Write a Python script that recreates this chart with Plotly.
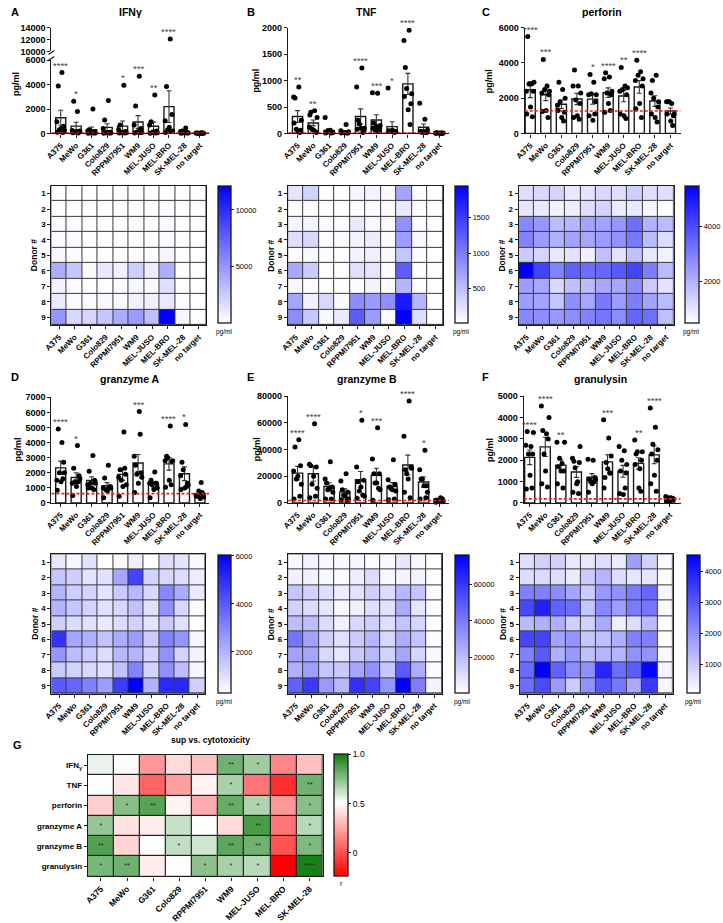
import numpy as np
import plotly.graph_objects as go

W, H = 723, 923
FONT = "Liberation Sans, Arial, sans-serif"

targets = ["A375", "MeWo", "G361", "Colo829", "RPPMI7951", "WM9", "MEL-JUSO", "MEL-BRO", "SK-MEL-28", "no target"]
donors = [1, 2, 3, 4, 5, 6, 7, 8, 9]

# pg/ml, outer list = target (order as `targets`), inner list = donors 1..9
ifng = [
    [100, 80, 300, 250, 400, 3900, 600, 950, 5000],
    [50, 40, 100, 200, 150, 2650, 150, 250, 1800],
    [20, 30, 50, 40, 60, 300, 100, 200, 2000],
    [20, 30, 50, 40, 80, 1100, 100, 400, 2700],
    [30, 40, 60, 50, 100, 700, 150, 300, 3950],
    [30, 50, 100, 80, 150, 2250, 400, 700, 4700],
    [20, 40, 80, 60, 100, 950, 200, 700, 3150],
    [80, 150, 300, 200, 500, 3850, 1550, 1050, 12100],
    [20, 30, 50, 40, 60, 200, 100, 150, 450],
    [10, 10, 20, 15, 20, 40, 30, 30, 60],
]
tnf = [
    [200, 20, 80, 250, 30, 670, 60, 690, 880],
    [350, 30, 80, 300, 60, 400, 20, 120, 430],
    [10, 10, 50, 20, 30, 20, 15, 300, 60],
    [10, 10, 20, 30, 15, 20, 10, 50, 170],
    [80, 20, 180, 100, 100, 250, 30, 880, 1240],
    [100, 30, 60, 150, 130, 200, 100, 770, 760],
    [50, 20, 40, 30, 60, 40, 30, 860, 40],
    [700, 170, 850, 750, 450, 1250, 560, 1760, 1950],
    [30, 20, 20, 60, 30, 40, 20, 570, 270],
    [5, 5, 10, 8, 5, 12, 6, 10, 8],
]
perforin = [
    [1100, 950, 2800, 2900, 1500, 5500, 2400, 2400, 2800],
    [1250, 900, 2500, 2400, 1300, 4200, 2200, 2300, 2700],
    [1300, 700, 1800, 2000, 900, 2900, 1200, 1600, 2500],
    [900, 800, 1900, 2300, 1000, 3600, 1700, 2700, 2700],
    [1000, 1100, 2250, 2200, 750, 3350, 1800, 2200, 2900],
    [1200, 1300, 2300, 2400, 1700, 3450, 2200, 3100, 3200],
    [1100, 850, 2500, 2600, 1000, 3750, 2200, 2400, 2700],
    [1400, 900, 3300, 3100, 1700, 4150, 2700, 3000, 3500],
    [1100, 650, 2000, 1800, 900, 3000, 1500, 2300, 3300],
    [1100, 450, 1800, 1100, 700, 1800, 1000, 1800, 1700],
]
granzyme_a = [
    [850, 1600, 2000, 2000, 1400, 4900, 2700, 1500, 4000],
    [500, 1400, 1400, 1600, 1100, 2300, 1800, 1300, 3800],
    [1000, 900, 1300, 1300, 1000, 2100, 1500, 1200, 3150],
    [350, 1000, 900, 1000, 800, 1650, 1100, 1000, 2500],
    [450, 2300, 1500, 1200, 1100, 2200, 1900, 1700, 4700],
    [700, 4550, 1900, 1700, 1300, 2500, 2000, 3100, 6050],
    [350, 1300, 1200, 1000, 900, 1500, 1300, 1300, 2050],
    [1050, 1200, 3000, 2800, 1500, 3100, 2750, 2800, 5100],
    [900, 1100, 2200, 1200, 1000, 2700, 1300, 1800, 5200],
    [450, 700, 800, 400, 300, 500, 600, 500, 1350],
]
granzyme_b = [
    [3000, 5000, 18000, 14000, 20000, 42000, 28000, 24000, 47500],
    [4000, 5000, 14000, 11000, 20000, 28000, 27000, 29000, 59500],
    [3000, 3000, 10000, 8000, 11000, 15000, 12000, 18000, 31000],
    [2500, 2000, 6000, 3000, 5000, 10000, 8000, 16500, 22000],
    [3500, 6000, 9000, 5000, 12000, 16000, 17000, 27000, 62000],
    [2000, 11000, 15000, 10000, 15000, 22000, 22000, 33000, 56500],
    [2500, 3000, 11000, 9000, 10000, 12000, 14000, 17500, 32500],
    [8000, 4000, 22000, 26000, 18000, 25000, 27000, 50000, 76500],
    [3000, 4000, 18000, 8000, 13000, 18000, 13000, 25000, 39500],
    [500, 1000, 2000, 1500, 1000, 2000, 3000, 2000, 4000],
]
granulysin = [
    [650, 700, 2300, 3300, 1300, 3350, 2300, 2700, 2650],
    [900, 750, 2300, 4000, 1500, 3400, 3000, 4550, 3250],
    [900, 700, 2100, 2850, 1500, 1700, 1500, 2850, 1850],
    [500, 450, 1650, 2650, 900, 1950, 1900, 2100, 1000],
    [500, 1000, 1000, 1100, 900, 1100, 1200, 2050, 2000],
    [700, 1400, 1900, 2200, 1600, 1200, 1400, 3900, 3050],
    [450, 700, 2000, 1800, 400, 1500, 1400, 2650, 2450],
    [1800, 550, 2400, 2400, 700, 2300, 2000, 2950, 1600],
    [900, 550, 2750, 2500, 1300, 2300, 2000, 4450, 3550],
    [200, 150, 250, 200, 100, 100, 200, 300, 250],
]

stars_ifng = ["****", "*", "", "", "*", "***", "**", "****", "", ""]
stars_tnf = ["**", "**", "", "", "****", "***", "*", "****", "", ""]
stars_perforin = ["****", "***", "", "", "*", "****", "**", "****", "", ""]
stars_granzyme_a = ["****", "*", "", "", "", "***", "", "****", "*", ""]
stars_granzyme_b = ["****", "****", "", "", "*", "***", "", "****", "*", ""]
stars_granulysin = ["****", "****", "**", "", "", "***", "", "**", "****", ""]

# tick labels
yticks_ifng_low = [0, 2000, 4000, 6000]
yticks_ifng_high = [10000, 12000, 14000]
yticks_tnf = [0, 500, 1000, 1500, 2000]
yticks_perforin = [0, 2000, 4000, 6000]
yticks_granzyme_a = [0, 1000, 2000, 3000, 4000, 5000, 6000, 7000]
yticks_granzyme_b = [0, 20000, 40000, 60000, 80000]
yticks_granulysin = [0, 1000, 2000, 3000, 4000, 5000]
cticks_ifng = [5000, 10000]
cticks_tnf = [500, 1000, 1500]
cticks_perforin = [2000, 4000]
cticks_granzyme_a = [2000, 4000, 6000]
cticks_granzyme_b = [20000, 40000, 60000]
cticks_granulysin = [1000, 2000, 3000, 4000]

# panel G: correlation r (cytokine vs cytotoxicity)
corr_targets = targets[:9]
corr_rows = ["IFN<sub>γ</sub>", "TNF", "perforin", "granzyme A", "granzyme B", "granulysin"]
r_ifng = [0.55, 0.49, 0.20, 0.40, 0.32, 0.80, 0.70, 0.15, 0.32]
r_tnf = [0.50, 0.43, 0.05, 0.22, 0.47, 0.68, 0.10, -0.10, 0.80]
r_perforin = [0.36, 0.75, 0.85, 0.47, 0.26, 0.82, 0.67, 0.20, 0.75]
r_granzyme_a = [0.72, 0.42, 0.45, 0.62, 0.50, 0.40, 0.88, 0.10, 0.65]
r_granzyme_b = [0.86, 0.38, 0.50, 0.63, 0.60, 0.84, 0.80, 0.00, 0.77]
r_granulysin = [0.78, 0.80, 0.45, 0.50, 0.74, 0.68, 0.65, -0.24, 0.98]
p_ifng = ["", "", "", "", "", "**", "*", "", ""]
p_tnf = ["", "", "", "", "", "*", "", "", "**"]
p_perforin = ["", "*", "**", "", "", "**", "*", "", "*"]
p_granzyme_a = ["*", "", "", "", "", "", "**", "", "*"]
p_granzyme_b = ["**", "", "", "*", "", "**", "**", "", "*"]
p_granulysin = ["*", "**", "", "", "*", "*", "*", "", "****"]
cticks_r = [0, 0.5, 1.0]
cticktext_r = ["0", "0.5", "1.0"]

# ---------------------------------------------------------------
JIT = [-0.22, 0.14, -0.08, 0.24, 0.02, -0.16, 0.19, -0.25, 0.08]
TICK_Y = 9
TICK_X = 8
INK = "#1a1a1a"

layout = dict(width=W, height=H, margin=dict(l=0, r=0, t=0, b=0), autosize=False,
              paper_bgcolor="white", plot_bgcolor="rgba(0,0,0,0)", showlegend=False,
              font=dict(family=FONT, color="black"), annotations=[], shapes=[])
traces = []
n_ax = [0]


def px_x(px):
    return px / W


def px_y(py):
    return 1 - py / H


AX = dict(showline=True, linecolor=INK, linewidth=1.4, ticks="outside", ticklen=3,
          tickwidth=1.2, tickcolor=INK, showgrid=False, zeroline=False, fixedrange=True)


def add_axes(x0, x1, y0, y1, xa, ya):
    n_ax[0] += 1
    n = n_ax[0]
    s = "" if n == 1 else str(n)
    xa = dict(xa)
    ya = dict(ya)
    xa.update(domain=[px_x(x0), px_x(x1)], anchor="y" + s)
    ya.update(domain=[px_y(y1), px_y(y0)], anchor="x" + s)
    layout["xaxis" + s] = xa
    layout["yaxis" + s] = ya
    return "x" + s, "y" + s


def text(px, py, t, size, bold=True, angle=0, color="black", xanchor="center"):
    layout["annotations"].append(dict(x=px_x(px), y=px_y(py), xref="paper", yref="paper", text=t,
                                      showarrow=False, textangle=angle, xanchor=xanchor, yanchor="middle",
                                      font=dict(size=size, color=color, weight="bold" if bold else "normal")))


def bar_panel(data, stars, xb, yb, yrange, yticks, xr=(-0.6, 9.6), upper=None):
    arr = np.array(data, float)
    means = arr.mean(axis=1)
    sems = arr.std(axis=1, ddof=1) / np.sqrt(arr.shape[1])
    xpos = np.arange(len(targets))
    xa = dict(AX, range=list(xr), tickvals=list(xpos), ticktext=targets, tickangle=-45,
              tickfont=dict(size=TICK_X, weight="bold"))
    ya = dict(AX, range=yrange, tickvals=yticks, ticktext=[str(v) for v in yticks],
              tickfont=dict(size=TICK_Y, weight="bold"))
    xs, ys = add_axes(xb[0], xb[1], yb[0], yb[1], xa, ya)
    traces.append(go.Bar(x=xpos, y=means, xaxis=xs, yaxis=ys, width=0.65,
                         marker=dict(color="white", line=dict(color=INK, width=1.4)),
                         error_y=dict(type="data", array=sems, color="#333", thickness=1.1, width=2.5),
                         hoverinfo="skip"))
    lim = yrange[1]
    lx, ly, ux, uy = [], [], [], []
    for i in range(arr.shape[0]):
        for d in range(arr.shape[1]):
            v = arr[i, d]
            if upper is not None and v > lim:
                ux.append(i + JIT[d]); uy.append(v)
            else:
                lx.append(i + JIT[d]); ly.append(v)
    traces.append(go.Scatter(x=lx, y=ly, mode="markers", xaxis=xs, yaxis=ys, cliponaxis=False,
                             marker=dict(size=5, color="black"), hoverinfo="skip"))
    traces.append(go.Scatter(x=[xr[0], xr[1]], y=[means[-1], means[-1]], mode="lines", xaxis=xs, yaxis=ys,
                             cliponaxis=False, line=dict(color="#ee1c1c", width=1.6, dash="3px,2px"),
                             hoverinfo="skip"))
    uxs = uys = None
    if upper is not None:
        uyb, urange, uticks = upper
        uxa = dict(visible=False, range=list(xr), fixedrange=True)
        uya = dict(AX, range=urange, tickvals=uticks, ticktext=[str(v) for v in uticks],
                   tickfont=dict(size=TICK_Y, weight="bold"))
        uxs, uys = add_axes(xb[0], xb[1], uyb[0], uyb[1], uxa, uya)
        traces.append(go.Scatter(x=ux, y=uy, mode="markers", xaxis=uxs, yaxis=uys, cliponaxis=False,
                                 marker=dict(size=5, color="black"), hoverinfo="skip"))
    for i, st in enumerate(stars):
        if not st:
            continue
        top = max(arr[i].max(), means[i] + sems[i])
        if upper is not None and top > lim:
            xr_, yr_ = uxs, uys
        else:
            xr_, yr_ = xs, ys
        layout["annotations"].append(dict(x=i, y=top, xref=xr_, yref=yr_, text=st, showarrow=False,
                                          yanchor="bottom", yshift=0,
                                          font=dict(size=9.5, color="#444")))


BLUE = [[0, "#ffffff"], [1, "#0000ff"]]


def heat_panel(data, xb, yb, cb, cticks):
    z = np.array(data, float).T
    xa = dict(AX, mirror=True, range=[-0.5, 9.5], tickvals=list(range(10)), ticktext=targets,
              tickangle=-45, tickfont=dict(size=TICK_X, weight="bold"))
    ya = dict(AX, mirror=True, range=[9.5, 0.5], tickvals=donors, tickfont=dict(size=8, weight="bold"))
    xs, ys = add_axes(xb[0], xb[1], yb[0], yb[1], xa, ya)
    layout["shapes"].append(dict(type="rect", xref=xs + " domain", yref=ys + " domain", x0=0, x1=1, y0=0, y1=1,
                                 fillcolor="#3a3a3a", line=dict(width=0), layer="below"))
    traces.append(go.Heatmap(z=z, x=list(range(10)), y=donors, xaxis=xs, yaxis=ys, colorscale=BLUE,
                             xgap=1, ygap=1, hoverinfo="skip",
                             colorbar=dict(x=px_x(cb[0]), xanchor="left", y=px_y(cb[3]), yanchor="bottom",
                                           len=(cb[3] - cb[2]) / H, lenmode="fraction",
                                           thickness=cb[1] - cb[0], thicknessmode="pixels",
                                           outlinecolor=INK, outlinewidth=1.3, ticks="outside", ticklen=3,
                                           tickcolor=INK, tickvals=cticks, ticktext=[str(v) for v in cticks],
                                           tickfont=dict(size=7.5), xpad=0, ypad=0)))
    text((cb[0] + cb[1]) / 2, cb[3] + 9, "pg/ml", 6.5, bold=False)
    text(xb[0] - 17, (yb[0] + yb[1]) / 2, "Donor #", 8.5, angle=-90)


# ---------------- row 1 ----------------
bar_panel(ifng, stars_ifng, (42, 202), (56, 130), [0, 6000], yticks_ifng_low,
          upper=((23, 47), [10000, 14000], yticks_ifng_high))
bar_panel(tnf, stars_tnf, (282, 445), (23, 130), [0, 2000], yticks_tnf)
bar_panel(perforin, stars_perforin, (522, 680), (23, 130), [0, 6000], yticks_perforin, xr=(-0.35, 9.65))
heat_panel(ifng, (42, 199), (183, 324), (211, 224, 183, 322), cticks_ifng)
heat_panel(tnf, (282, 439), (183, 324), (451, 464, 183, 322), cticks_tnf)
heat_panel(perforin, (516, 673), (183, 324), (684, 698, 183, 322), cticks_perforin)

# ---------------- row 2 ----------------
bar_panel(granzyme_a, stars_granzyme_a, (42, 202), (397, 504), [0, 7000], yticks_granzyme_a)
bar_panel(granzyme_b, stars_granzyme_b, (282, 445), (396, 504), [0, 80000], yticks_granzyme_b)
bar_panel(granulysin, stars_granulysin, (521, 680), (396, 504), [0, 5000], yticks_granulysin, xr=(-0.38, 9.7))
heat_panel(granzyme_a, (42, 198), (556, 697), (211, 224, 556, 696), cticks_granzyme_a)
heat_panel(granzyme_b, (282, 438), (556, 697), (451, 465, 556, 696), cticks_granzyme_b)
heat_panel(granulysin, (517, 672), (556, 697), (686, 699, 556, 696), cticks_granulysin)

# y-axis break marks for IFNγ
for yy in (48, 54):
    layout["shapes"].append(dict(type="line", xref="paper", yref="paper", x0=px_x(39), x1=px_x(45),
                                 y0=px_y(yy + 2), y1=px_y(yy - 2), line=dict(color=INK, width=1.2)))

# ---------------- panel G ----------------
zc = np.array([r_ifng, r_tnf, r_perforin, r_granzyme_a, r_granzyme_b, r_granulysin], float)
pc = [p_ifng, p_tnf, p_perforin, p_granzyme_a, p_granzyme_b, p_granulysin]
xa = dict(AX, mirror=True, range=[-0.5, 8.5], tickvals=list(range(9)), ticktext=corr_targets,
          tickangle=-45, tickfont=dict(size=8.5, weight="bold"))
ya = dict(AX, mirror=True, range=[5.5, -0.5], tickvals=list(range(6)), ticktext=corr_rows,
          tickfont=dict(size=8, weight="bold"))
gx, gy = add_axes(79, 317, 759, 882, xa, ya)
layout["shapes"].append(dict(type="rect", xref=gx + " domain", yref=gy + " domain", x0=0, x1=1, y0=0, y1=1,
                             fillcolor="#222", line=dict(width=0), layer="below"))
GREENRED = [[0, "#ff0000"], [0.6, "#ffffff"], [1, "#0e7d0e"]]
traces.append(go.Heatmap(z=zc, x=list(range(9)), y=list(range(6)), xaxis=gx, yaxis=gy, colorscale=GREENRED,
                         zmin=float(zc.min()), zmax=1.0, xgap=1.2, ygap=1.2, text=pc, texttemplate="%{text}",
                         textfont=dict(size=7, color="#222"), hoverinfo="skip",
                         colorbar=dict(x=px_x(329), xanchor="left", y=px_y(882), yanchor="bottom",
                                       len=(882 - 759) / H, lenmode="fraction", thickness=14, thicknessmode="pixels",
                                       outlinecolor=INK, outlinewidth=1.3, ticks="outside", ticklen=3,
                                       tickcolor=INK, tickvals=cticks_r, ticktext=cticktext_r,
                                       tickfont=dict(size=8.5), xpad=0, ypad=0)))
text(336, 889, "r", 7, bold=False)

# ---------------- titles / labels ----------------
text(122, 7, "IFNγ", 10.5)
text(362, 7, "TNF", 10.5)
text(600, 7, "perforin", 10.5)
text(122, 379, "granzyme A", 10.5)
text(362, 379, "granzyme B", 10.5)
text(599, 379, "granulysin", 10.5)
text(203, 744, "sup vs. cytotoxicity", 8.5)
for lx, ly, t in [(5, 7, "A"), (244, 7, "B"), (483, 7, "C"), (5, 376, "D"), (244, 376, "E"),
                  (482, 376, "F"), (8, 749, "G")]:
    text(lx, ly, t, 11)
for lx, ly in [(6, 80), (250, 77), (486, 77), (8, 450), (250, 450), (486, 450)]:
    text(lx, ly, "pg/ml", 9, angle=-90)

fig = go.Figure(data=traces, layout=layout)
fig.write_html("out.html", config={"displayModeBar": False},
               post_script="document.body.style.margin='0';")
